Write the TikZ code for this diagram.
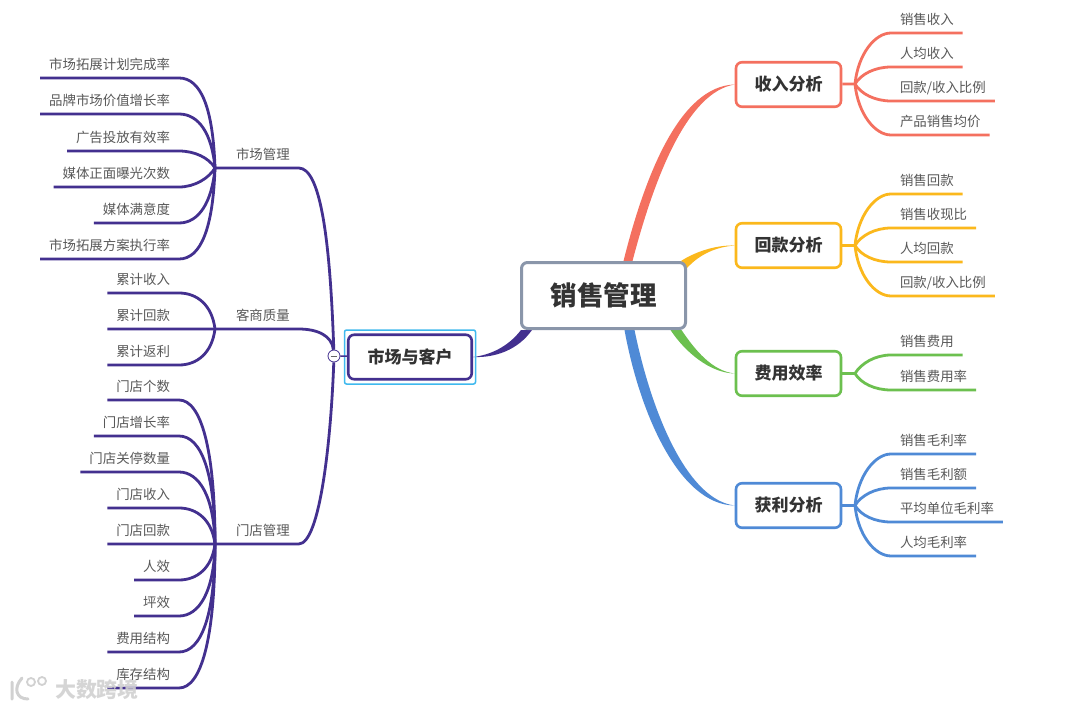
\documentclass[tikz,border=0pt]{standalone}
\usepackage{fontspec}
\setmainfont{Noto Sans CJK SC}
\usepackage{xcolor}
\usetikzlibrary{backgrounds}

\definecolor{rootgray}{HTML}{8A96AA}
\definecolor{salesred}{HTML}{F4705F}
\definecolor{cashgold}{HTML}{FBB81C}
\definecolor{costgreen}{HTML}{6CC04F}
\definecolor{profitblue}{HTML}{4F8AD6}
\definecolor{plum}{HTML}{43308F}
\definecolor{picksky}{HTML}{3FB9EE}

\begin{document}
\begin{tikzpicture}[
	x=1pt, y=-1pt,
	rootbox/.style={draw=rootgray, line width=3pt, rounded corners=6pt, fill=white, minimum width=164pt, minimum height=66pt, text=black!80, font=\fontsize{26.5}{30}\selectfont\bfseries},
	topic/.style={draw, line width=2.6pt, rounded corners=6pt, fill=white, minimum width=105pt, minimum height=44.5pt, text=black!80, font=\fontsize{17}{20}\selectfont\bfseries},
	leaf/.style={inner xsep=8.8pt, inner ysep=0pt, minimum height=26pt, text height=11.5pt, text depth=1.5pt, text=black!65, font=\fontsize{13.42}{15}\selectfont},
	wire/.style={line width=2.8pt, line join=round}
]

\begin{scope}[on background layer]
\fill[white] (0,0) rectangle (1080,709);
\end{scope}
\useasboundingbox (0,0) rectangle (1080,709);

\node[rootbox] (root) at (603.5,295.5) {销售管理};
\node[topic, draw=salesred] (income) at (788.5,84.5) {收入分析};
\node[topic, draw=cashgold] (cash) at (788.5,245.5) {回款分析};
\node[topic, draw=costgreen] (cost) at (788.5,373.5) {费用效率};
\node[topic, draw=profitblue] (profit) at (788.5,505.5) {获利分析};
\node[topic, draw=plum, minimum width=123.5pt] (market) at (410,357) {市场与客户};
\node[draw=picksky, line width=1.5pt, rounded corners=2pt, minimum width=131pt, minimum height=54pt] (pick) at (410,357) {};

\coordinate (hubi) at (855,84);
\coordinate (hubc) at (855,245.5);
\coordinate (hubo) at (855,373.5);
\coordinate (hubp) at (855,505.5);
\coordinate (hubm) at (215,168);
\coordinate (hubq) at (215,329);
\coordinate (hubs) at (215,544);

% right side leaves
\node[leaf, anchor=south west] (inc1) at (891,33) {销售收入};
\node[leaf, anchor=south west] (inc2) at (891,67) {人均收入};
\node[leaf, anchor=south west] (inc3) at (891,101) {回款/收入比例};
\node[leaf, anchor=south west] (inc4) at (891,135) {产品销售均价};

\node[leaf, anchor=south west] (csh1) at (891,194) {销售回款};
\node[leaf, anchor=south west] (csh2) at (891,228) {销售收现比};
\node[leaf, anchor=south west] (csh3) at (891,262) {人均回款};
\node[leaf, anchor=south west] (csh4) at (891,296) {回款/收入比例};

\node[leaf, anchor=south west] (cst1) at (891,355) {销售费用};
\node[leaf, anchor=south west] (cst2) at (891,390) {销售费用率};

\node[leaf, anchor=south west] (prf1) at (891,454) {销售毛利率};
\node[leaf, anchor=south west] (prf2) at (891,488) {销售毛利额};
\node[leaf, anchor=south west] (prf3) at (891,522) {平均单位毛利率};
\node[leaf, anchor=south west] (prf4) at (891,556) {人均毛利率};

% left side branches
\node[leaf, anchor=south west] (mgt) at (227,168) {市场管理};
\node[leaf, anchor=south west] (qual) at (227,329) {客商质量};
\node[leaf, anchor=south west] (shop) at (227,544) {门店管理};

\node[leaf, anchor=south east] (m1) at (179,78) {市场拓展计划完成率};
\node[leaf, anchor=south east] (m2) at (179,114) {品牌市场价值增长率};
\node[leaf, anchor=south east] (m3) at (179,151) {广告投放有效率};
\node[leaf, anchor=south east] (m4) at (179,187) {媒体正面曝光次数};
\node[leaf, anchor=south east] (m5) at (179,223) {媒体满意度};
\node[leaf, anchor=south east] (m6) at (179,259) {市场拓展方案执行率};

\node[leaf, anchor=south east] (q1) at (179,293) {累计收入};
\node[leaf, anchor=south east] (q2) at (179,329) {累计回款};
\node[leaf, anchor=south east] (q3) at (179,365) {累计返利};

\node[leaf, anchor=south east] (s1) at (179,400) {门店个数};
\node[leaf, anchor=south east] (s2) at (179,436) {门店增长率};
\node[leaf, anchor=south east] (s3) at (179,472) {门店关停数量};
\node[leaf, anchor=south east] (s4) at (179,508) {门店收入};
\node[leaf, anchor=south east] (s5) at (179,544) {门店回款};
\node[leaf, anchor=south east] (s6) at (179,580) {人效};
\node[leaf, anchor=south east] (s7) at (179,616) {坪效};
\node[leaf, anchor=south east] (s8) at (179,652) {费用结构};
\node[leaf, anchor=south east] (s9) at (179,688) {库存结构};

\node[draw=plum, line width=.8pt, circle, fill=white, minimum size=12pt, inner sep=0pt] (fold) at (334,356) {};

% tapered links out of the root
\begin{scope}[on background layer]
\fill[salesred] ([xshift=20]root.north) .. controls (645,175) and (680,86) .. (income.west) .. controls (688,92) and (655,175) .. ([xshift=29]root.north) -- cycle;
\fill[cashgold] ([xshift=-6]root.north east) .. controls (695,252) and (715,245) .. (cash.west) .. controls (716,247) and (700,254) .. ([yshift=-7]root.north east) -- cycle;
\fill[costgreen] ([xshift=67]root.south) .. controls (685,352) and (710,373) .. (cost.west) .. controls (712,371) and (695,350) .. ([xshift=78]root.south) -- cycle;
\fill[profitblue] ([xshift=21]root.south) .. controls (640,415) and (680,505) .. (profit.west) .. controls (688,500) and (652,415) .. ([xshift=31]root.south) -- cycle;
\fill[plum] (521,330) .. controls (508,347) and (490,355) .. (market.east) .. controls (495,358) and (518,350) .. (532,330) -- cycle;
\end{scope}

% income
\draw[wire, salesred] (income) -- (hubi);
\draw[wire, salesred] (hubi) .. controls +(3,-30) and +(-16,0) .. (inc1.south west) -- (inc1.south east);
\draw[wire, salesred] (hubi) .. controls +(6,-10) and +(-16,0) .. (inc2.south west) -- (inc2.south east);
\draw[wire, salesred] (hubi) .. controls +(6,10) and +(-16,0) .. (inc3.south west) -- (inc3.south east);
\draw[wire, salesred] (hubi) .. controls +(3,30) and +(-16,0) .. (inc4.south west) -- (inc4.south east);

% cash
\draw[wire, cashgold] (cash) -- (hubc);
\draw[wire, cashgold] (hubc) .. controls +(3,-30) and +(-16,0) .. (csh1.south west) -- (csh1.south east);
\draw[wire, cashgold] (hubc) .. controls +(6,-10) and +(-16,0) .. (csh2.south west) -- (csh2.south east);
\draw[wire, cashgold] (hubc) .. controls +(6,10) and +(-16,0) .. (csh3.south west) -- (csh3.south east);
\draw[wire, cashgold] (hubc) .. controls +(3,30) and +(-16,0) .. (csh4.south west) -- (csh4.south east);

% cost
\draw[wire, costgreen] (cost) -- (hubo);
\draw[wire, costgreen] (hubo) .. controls +(6,-10) and +(-16,0) .. (cst1.south west) -- (cst1.south east);
\draw[wire, costgreen] (hubo) .. controls +(6,10) and +(-16,0) .. (cst2.south west) -- (cst2.south east);

% profit
\draw[wire, profitblue] (profit) -- (hubp);
\draw[wire, profitblue] (hubp) .. controls +(3,-30) and +(-16,0) .. (prf1.south west) -- (prf1.south east);
\draw[wire, profitblue] (hubp) .. controls +(6,-10) and +(-16,0) .. (prf2.south west) -- (prf2.south east);
\draw[wire, profitblue] (hubp) .. controls +(6,10) and +(-16,0) .. (prf3.south west) -- (prf3.south east);
\draw[wire, profitblue] (hubp) .. controls +(3,30) and +(-16,0) .. (prf4.south west) -- (prf4.south east);

% market
\draw[line width=1.4pt, plum] (market) -- (fold);
\draw[wire, plum] (fold) .. controls (330,236) and (320,168) .. (mgt.south east) -- (hubm);
\draw[wire, plum] (fold) .. controls (332,336) and (318,329) .. (qual.south east) -- (hubq);
\draw[wire, plum] (fold) .. controls (331,440) and (320,544) .. (shop.south east) -- (hubs);
\draw[line width=.8pt, black!60] ([xshift=3]fold.west) -- ([xshift=-3]fold.east);

\draw[wire, plum] (hubm) .. controls +(-2,-60) and +(22,0) .. (m1.south east) -- (m1.south west);
\draw[wire, plum] (hubm) .. controls +(-3,-34) and +(20,0) .. (m2.south east) -- (m2.south west);
\draw[wire, plum] (hubm) .. controls +(-6,-10) and +(16,0) .. (m3.south east) -- (m3.south west);
\draw[wire, plum] (hubm) .. controls +(-6,10) and +(16,0) .. (m4.south east) -- (m4.south west);
\draw[wire, plum] (hubm) .. controls +(-3,34) and +(20,0) .. (m5.south east) -- (m5.south west);
\draw[wire, plum] (hubm) .. controls +(-2,60) and +(22,0) .. (m6.south east) -- (m6.south west);

\draw[wire, plum] (hubq) .. controls +(-3,-24) and +(18,0) .. (q1.south east) -- (q1.south west);
\draw[wire, plum] (hubq) .. controls +(-3,24) and +(18,0) .. (q3.south east) -- (q3.south west) (hubq) -- (q2.south west);

\draw[wire, plum] (hubs) .. controls +(0,-95) and +(22,0) .. (s1.south east) -- (s1.south west);
\draw[wire, plum] (hubs) .. controls +(0,-72) and +(22,0) .. (s2.south east) -- (s2.south west);
\draw[wire, plum] (hubs) .. controls +(-1,-48) and +(20,0) .. (s3.south east) -- (s3.south west);
\draw[wire, plum] (hubs) .. controls +(-3,-24) and +(18,0) .. (s4.south east) -- (s4.south west);
\draw[wire, plum] (hubs) .. controls +(-3,24) and +(18,0) .. (s6.south east) -- (s6.south west) (hubs) -- (s5.south west);
\draw[wire, plum] (hubs) .. controls +(-1,48) and +(20,0) .. (s7.south east) -- (s7.south west);
\draw[wire, plum] (hubs) .. controls +(0,72) and +(22,0) .. (s8.south east) -- (s8.south west);
\draw[wire, plum] (hubs) .. controls +(0,95) and +(22,0) .. (s9.south east) -- (s9.south west);

% watermark in the corner
\node[text=black!18, opacity=.9, inner sep=0pt, font=\fontsize{21}{24}\selectfont\bfseries] (mark) at (97,689) {大数跨境};
\draw[line width=3pt, black!18, line cap=round] (12,682) -- (12,699) (22,678) .. controls (13,688) and (16,699) .. (28,699);
\draw[line width=1.8pt, black!18] (31,682) circle (4) (42,681) circle (4);

\end{tikzpicture}
\end{document}
